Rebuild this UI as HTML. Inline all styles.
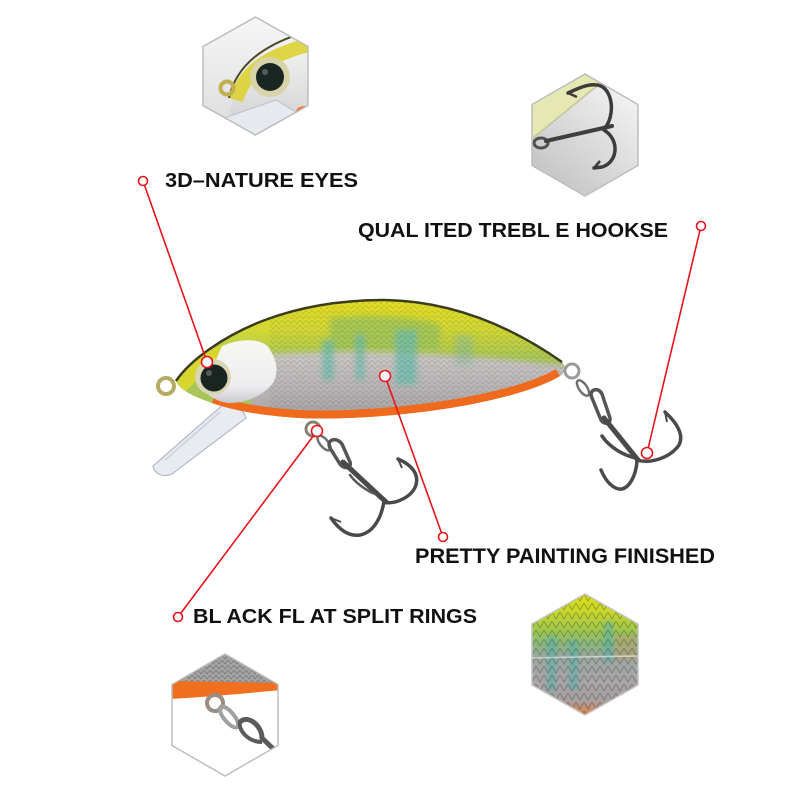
<!DOCTYPE html>
<html>
<head>
<meta charset="utf-8">
<style>
html,body{margin:0;padding:0;background:#fff;}
svg{display:block;}
text{font-family:"Liberation Sans",Arial,sans-serif;font-weight:bold;fill:#111;}
</style>
</head>
<body>
<svg width="800" height="800" viewBox="0 0 800 800" xmlns="http://www.w3.org/2000/svg">
<defs>
  <clipPath id="c1"><polygon points="255.5,17 308,46.5 308,105.5 255.5,135 203,105.5 203,46.5"/></clipPath>
  <clipPath id="c2"><polygon points="585,74 638,104.5 638,165.5 585,196 532,165.5 532,104.5"/></clipPath>
  <clipPath id="c3"><polygon points="585,594 638,624 638,685 585,715 532,685 532,624"/></clipPath>
  <clipPath id="c4"><polygon points="225,654 278,684.5 278,745.5 225,776 172,745.5 172,684.5"/></clipPath>
  <clipPath id="body"><path d="M176,381 C190,360 225,335 265,320 C305,305 345,300 385,300 C445,301 505,322 562,362 C566,366 566,372 560,376 C540,388 500,400 450,408 C400,416 340,420 300,418 C265,416 235,411 212,403 C192,396 180,390 176,381 Z"/></clipPath>
  <filter id="blur3"><feGaussianBlur stdDeviation="3"/></filter>
  <filter id="blur2"><feGaussianBlur stdDeviation="2"/></filter>
  <pattern id="scale" width="6" height="5" patternUnits="userSpaceOnUse">
    <path d="M0,0 L3,4 L6,0" fill="none" stroke="rgba(50,50,40,0.18)" stroke-width="0.8"/>
  </pattern>
  <pattern id="scale4" width="6" height="5" patternUnits="userSpaceOnUse">
    <path d="M0,0 L3,4 L6,0" fill="none" stroke="rgba(50,50,50,0.35)" stroke-width="0.9"/>
  </pattern>
  <pattern id="scale2" width="8" height="9" patternUnits="userSpaceOnUse">
    <path d="M0,0 L4,7 L8,0" fill="none" stroke="rgba(40,40,40,0.3)" stroke-width="1.1"/>
  </pattern>
  <linearGradient id="yel" x1="0" y1="300" x2="0" y2="360" gradientUnits="userSpaceOnUse">
    <stop offset="0" stop-color="#e4dc22"/>
    <stop offset="0.5" stop-color="#d2d834"/>
    <stop offset="1" stop-color="#a8c658"/>
  </linearGradient>
  <linearGradient id="silv" x1="0" y1="350" x2="0" y2="415" gradientUnits="userSpaceOnUse">
    <stop offset="0" stop-color="#cdcac8"/>
    <stop offset="0.6" stop-color="#b8b4b6"/>
    <stop offset="1" stop-color="#aaa4a4"/>
  </linearGradient>
  <linearGradient id="gill" x1="0" y1="342" x2="0" y2="404" gradientUnits="userSpaceOnUse">
    <stop offset="0" stop-color="#f6f6f2"/>
    <stop offset="0.7" stop-color="#eeeef0"/>
    <stop offset="1" stop-color="#c8c8cc"/>
  </linearGradient>
  <linearGradient id="h3" x1="0" y1="594" x2="0" y2="715" gradientUnits="userSpaceOnUse">
    <stop offset="0" stop-color="#dade18"/>
    <stop offset="0.15" stop-color="#c8d82c"/>
    <stop offset="0.3" stop-color="#a0c84e"/>
    <stop offset="0.42" stop-color="#8cb880"/>
    <stop offset="0.52" stop-color="#9ca8a0"/>
    <stop offset="0.7" stop-color="#aaa6aa"/>
    <stop offset="0.88" stop-color="#a8a0a0"/>
    <stop offset="1" stop-color="#e08048"/>
  </linearGradient>
  <linearGradient id="h2bg" x1="532" y1="196" x2="638" y2="74" gradientUnits="userSpaceOnUse">
    <stop offset="0" stop-color="#bdbdbd"/>
    <stop offset="1" stop-color="#fafafa"/>
  </linearGradient>
  <linearGradient id="h1bg" x1="0" y1="17" x2="0" y2="135" gradientUnits="userSpaceOnUse">
    <stop offset="0" stop-color="#f6f6f6"/>
    <stop offset="1" stop-color="#dcdcdc"/>
  </linearGradient>
  <linearGradient id="h1head" x1="0" y1="40" x2="0" y2="135" gradientUnits="userSpaceOnUse">
    <stop offset="0" stop-color="#f4f4f0"/>
    <stop offset="1" stop-color="#cfcfd3"/>
  </linearGradient>
</defs>

<!-- ===== Hexagon 1 : eye ===== -->
<g clip-path="url(#c1)">
  <rect x="200" y="15" width="110" height="122" fill="url(#h1bg)"/>
  <path d="M230,112 C234,80 258,52 312,34 L312,140 L230,140 Z" fill="url(#h1head)"/>
  <path d="M236,100 C244,74 264,56 312,44" fill="none" stroke="#dcd234" stroke-width="14" opacity="0.9"/>
  <path d="M229,98 C236,66 262,44 312,30" fill="none" stroke="#4a4a2a" stroke-width="2"/>
  <circle cx="270" cy="77" r="20" fill="#d8d4aa"/>
  <circle cx="270" cy="77" r="14" fill="#1a2622"/>
  <circle cx="265" cy="72" r="3" fill="rgba(255,255,255,0.25)"/>
  <circle cx="227" cy="88" r="6.5" fill="none" stroke="#c0b050" stroke-width="4"/>
  <polygon points="224,118 276,100 296,112 246,140" fill="#e6e9ef" stroke="#b8bec8" stroke-width="1"/>
  <ellipse cx="304" cy="112" rx="8" ry="6" fill="#f07a30"/>
</g>
<polygon points="255.5,17 308,46.5 308,105.5 255.5,135 203,105.5 203,46.5" fill="none" stroke="#bdbdbd" stroke-width="1.5"/>

<!-- ===== Hexagon 2 : treble hook ===== -->
<g clip-path="url(#c2)">
  <rect x="530" y="72" width="110" height="126" fill="url(#h2bg)"/>
  <polygon points="528,100 592,66 602,82 528,142" fill="#e6e8b2"/>
  <line x1="528" y1="142" x2="602" y2="82" stroke="#c4c49a" stroke-width="1.5"/>
  <ellipse cx="541" cy="143" rx="7" ry="5" fill="none" stroke="#505050" stroke-width="3"/>
  <path d="M546,141 L612,126" fill="none" stroke="#404040" stroke-width="4" stroke-linecap="round"/>
  <path d="M605,128 C615,115 613,92 601,86 C591,82 579,88 568,93" fill="none" stroke="#3c3c3c" stroke-width="3.5" stroke-linecap="round"/>
  <path d="M568,93 L577,97" stroke="#3c3c3c" stroke-width="2.5"/>
  <path d="M604,130 C620,140 618,162 602,167 L594,168" fill="none" stroke="#3c3c3c" stroke-width="3.5" stroke-linecap="round"/>
  <path d="M594,168 L600,161" stroke="#3c3c3c" stroke-width="2.5"/>
</g>
<polygon points="585,74 638,104.5 638,165.5 585,196 532,165.5 532,104.5" fill="none" stroke="#bdbdbd" stroke-width="1.5"/>

<!-- ===== Hexagon 3 : painting ===== -->
<g clip-path="url(#c3)">
  <rect x="530" y="592" width="110" height="126" fill="url(#h3)"/>
  <g filter="url(#blur2)" opacity="0.6">
    <rect x="547" y="636" width="9" height="55" fill="#58b0a8"/>
    <rect x="569" y="640" width="9" height="50" fill="#58b0a8"/>
    <rect x="604" y="622" width="9" height="40" fill="#58b0a8"/>
    <rect x="615" y="635" width="22" height="25" fill="#b8a070"/>
  </g>
  <rect x="530" y="592" width="110" height="126" fill="url(#scale2)"/>
  <line x1="532" y1="658" x2="638" y2="656" stroke="rgba(255,255,255,0.5)" stroke-width="1.5"/>
</g>
<polygon points="585,594 638,624 638,685 585,715 532,685 532,624" fill="none" stroke="#c4c4c4" stroke-width="1.5"/>

<!-- ===== Hexagon 4 : split rings ===== -->
<g clip-path="url(#c4)">
  <rect x="170" y="652" width="110" height="126" fill="#fff"/>
  <rect x="170" y="650" width="110" height="36" fill="#a4a4a4"/>
  <rect x="170" y="650" width="110" height="36" fill="url(#scale4)"/>
  <path d="M170,681 L280,683 L280,690 C250,693 220,696 170,699 Z" fill="#f07020"/>
  <circle cx="215" cy="703" r="8" fill="none" stroke="#9a8c80" stroke-width="4"/>
  <ellipse cx="229" cy="717" rx="5" ry="13" transform="rotate(-40 229 717)" fill="none" stroke="#a0a0a0" stroke-width="4"/>
  <path d="M240,722 C248,714 262,726 262,738 L290,765" fill="none" stroke="#5a5a5a" stroke-width="5" stroke-linecap="round"/>
  <path d="M240,722 C238,730 248,742 262,742" fill="none" stroke="#5a5a5a" stroke-width="4"/>
</g>
<polygon points="225,654 278,684.5 278,745.5 225,776 172,745.5 172,684.5" fill="none" stroke="#bdbdbd" stroke-width="1.5"/>

<!-- ===== Main lure ===== -->
<!-- lip -->
<path d="M226,402 C236,405 244,410 246,418 L172,474 C164,478 154,474 153,466 Z" fill="#e8ebf1" stroke="#b4bac6" stroke-width="1.2"/>
<path d="M220,412 L165,460" stroke="#c8ccd6" stroke-width="2" opacity="0.7"/>
<!-- line tie -->
<circle cx="166" cy="386" r="8" fill="none" stroke="#b4aa64" stroke-width="4"/>
<!-- body -->
<g clip-path="url(#body)">
  <rect x="170" y="295" width="400" height="130" fill="url(#yel)"/>
  <g filter="url(#blur3)">
    <path d="M330,318 C360,315 410,315 440,325 L440,350 L330,350 Z" fill="#9cc45a" opacity="0.8"/>
    <path d="M250,356 C330,348 450,352 570,366 L570,430 L250,430 Z" fill="url(#silv)"/>
    <rect x="322" y="340" width="12" height="40" fill="#6cbcac" opacity="0.75"/>
    <rect x="355" y="335" width="10" height="45" fill="#6cbcac" opacity="0.7"/>
    <rect x="395" y="330" width="22" height="55" fill="#6cbcac" opacity="0.75"/>
    <rect x="455" y="335" width="18" height="30" fill="#8cbc9c" opacity="0.5"/>
  </g>
  <rect x="270" y="295" width="300" height="130" fill="url(#scale)"/>
  <path d="M212,403 C235,411 265,416 300,418 C340,420 400,416 450,408 C500,400 540,388 560,376" fill="none" stroke="#f06a1e" stroke-width="16"/>
  <path d="M222,346 C240,338 262,338 269,348 C277,360 279,372 273,383 C263,396 246,403 228,403 C214,401 204,393 199,383 Z" fill="url(#gill)"/>
  <path d="M176,381 C185,365 200,352 222,346 L215,362 L185,392 Z" fill="#d8d62e"/>
</g>
<path d="M176,381 C190,360 225,335 265,320 C305,305 345,300 385,300 C445,301 505,322 562,362" fill="none" stroke="#3a3c1c" stroke-width="2.5"/>
<!-- eye -->
<circle cx="213" cy="377" r="18" fill="#d9d6b4"/>
<circle cx="214" cy="378" r="13.5" fill="#1a2420"/>
<circle cx="209" cy="373" r="3" fill="rgba(255,255,255,0.25)"/>

<!-- belly hook -->
<circle cx="313" cy="429" r="7" fill="none" stroke="#8a8070" stroke-width="3"/>
<ellipse cx="324" cy="443" rx="4" ry="9" transform="rotate(-40 324 443)" fill="none" stroke="#707070" stroke-width="2.5"/>
<path d="M330,448 C326,440 336,436 342,444 L350,462 C352,468 344,470 340,464 Z" fill="none" stroke="#555" stroke-width="3.5"/>
<path d="M343,462 L386,502" fill="none" stroke="#4a4a4a" stroke-width="5" stroke-linecap="round"/>
<path d="M384,502 C395,505 412,497 416,485 C419,474 412,465 398,459" fill="none" stroke="#4a4a4a" stroke-width="3.5" stroke-linecap="round"/>
<path d="M398,459 L402,468" stroke="#4a4a4a" stroke-width="2"/>
<path d="M384,501 C382,515 375,532 360,535 C348,537 338,528 331,518" fill="none" stroke="#4a4a4a" stroke-width="3.5" stroke-linecap="round"/>
<path d="M331,518 L341,522" stroke="#4a4a4a" stroke-width="2"/>
<path d="M375,494 C365,490 355,482 350,475" fill="none" stroke="#5a5a5a" stroke-width="2.5" stroke-linecap="round"/>

<!-- tail hook -->
<circle cx="572" cy="371" r="7" fill="none" stroke="#9a9a9a" stroke-width="3"/>
<ellipse cx="583" cy="388" rx="4" ry="9" transform="rotate(-35 583 388)" fill="none" stroke="#707070" stroke-width="2.5"/>
<path d="M592,398 C588,390 598,386 602,394 L610,418 C611,424 604,425 601,420 Z" fill="none" stroke="#555" stroke-width="3.5"/>
<path d="M604,418 L638,460" fill="none" stroke="#4a4a4a" stroke-width="5" stroke-linecap="round"/>
<path d="M637,460 C650,464 670,458 679,445 C684,435 678,424 665,412" fill="none" stroke="#4a4a4a" stroke-width="3.5" stroke-linecap="round"/>
<path d="M665,412 L667,422" stroke="#4a4a4a" stroke-width="2"/>
<path d="M636,458 C625,456 610,448 602,436" fill="none" stroke="#4a4a4a" stroke-width="3.5" stroke-linecap="round"/>
<path d="M637,461 C636,475 630,487 622,489 C614,490 606,482 601,470" fill="none" stroke="#4a4a4a" stroke-width="3.5" stroke-linecap="round"/>

<!-- ===== Red callout lines ===== -->
<g stroke="#e8141c" stroke-width="1.6" fill="none">
  <line x1="143" y1="181" x2="207" y2="362"/>
  <line x1="701" y1="226" x2="647" y2="453"/>
  <line x1="443" y1="537" x2="385" y2="376"/>
  <line x1="178" y1="617" x2="317" y2="431"/>
</g>
<g stroke="#e8141c" stroke-width="1.6" fill="#fff">
  <circle cx="143" cy="181" r="4.5"/>
  <circle cx="701" cy="226" r="4.5"/>
  <circle cx="443" cy="537" r="4.5"/>
  <circle cx="178" cy="617" r="4.5"/>
  <circle cx="207" cy="362" r="5.5"/>
  <circle cx="647" cy="453" r="5.5"/>
  <circle cx="385" cy="376" r="5.5"/>
  <circle cx="317" cy="431" r="5.5"/>
</g>

<!-- ===== Labels ===== -->
<text x="165" y="187" font-size="20" textLength="193" lengthAdjust="spacingAndGlyphs">3D–NATURE EYES</text>
<text x="358" y="237" font-size="20" textLength="310" lengthAdjust="spacingAndGlyphs">QUAL ITED TREBL E HOOKSE</text>
<text x="415" y="563" font-size="21" textLength="300" lengthAdjust="spacingAndGlyphs">PRETTY PAINTING FINISHED</text>
<text x="193" y="623" font-size="20" textLength="284" lengthAdjust="spacingAndGlyphs">BL ACK FL AT SPLIT RINGS</text>
</svg>
</body>
</html>
